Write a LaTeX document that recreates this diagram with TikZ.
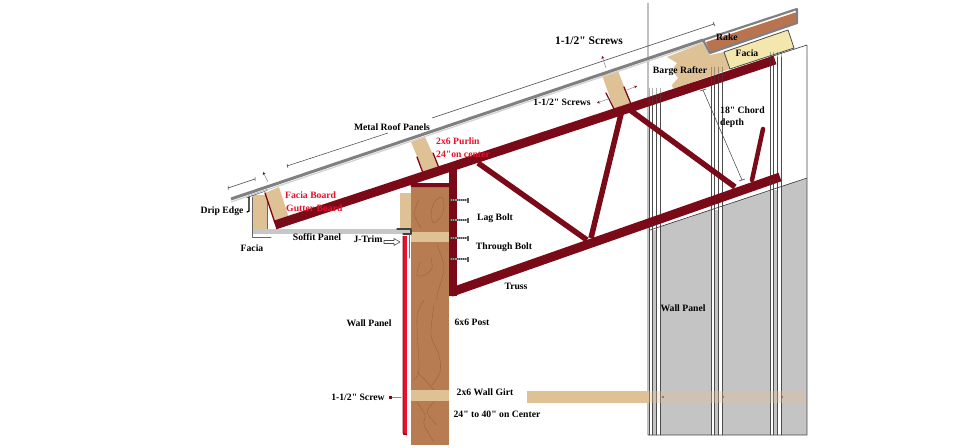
\documentclass[tikz,border=0pt]{standalone}
\usepackage{fontspec}
\usetikzlibrary{arrows.meta}
\setmainfont[Ligatures=TeXOff]{Liberation Serif}
\definecolor{trussred}{HTML}{7A0A18}
\definecolor{postbrown}{HTML}{B87C52}
\definecolor{graincol}{HTML}{9A6038}
\definecolor{lumber}{HTML}{DFC196}
\definecolor{creamy}{HTML}{F3E7AE}
\definecolor{rakebrown}{HTML}{B9744F}
\definecolor{panelgray}{HTML}{C4C4C4}
\definecolor{labelred}{HTML}{E8102A}
\tikzset{
lbl/.style={font=\bfseries\fontsize{9.7}{11}\selectfont,inner sep=0pt,text=black},
redlbl/.style={lbl,text=labelred},
truss/.style={draw=trussred,line cap=butt},
grain/.style={draw=graincol,line width=.35pt,smooth},
dimline/.style={draw=black!75,line width=.5pt},
leader/.style={draw=black!45,line width=.5pt,-{Stealth[length=3pt,width=3pt,trussred]}},
}
\begin{document}
\begin{tikzpicture}[x=1pt,y=-1pt, line join=round, line cap=round,>=stealth]
\useasboundingbox (0,0) rectangle (958,447);
\def\panelbot{435}
% wall panel
\fill[panelgray] (650,230)--(807,178)--(807,\panelbot)--(650,\panelbot)--cycle;
\foreach \x in {649,711,770} \fill[white] (\x,100) rectangle (\x+11,\panelbot);
\fill[white] (650,100)--(807,50)--(807,177)--(650,229)--cycle;
\foreach \x/\t/\b in {649/97/\panelbot,711/77/\panelbot,770/57/\panelbot}{
\fill[panelgray] (\x+4,{230-(\x-650)/3}) rectangle (\x+7,\b);
\draw[black!70,line width=.7pt] (\x,\t)--(\x,\b) (\x+3,\t)--(\x+3,\b) (\x+7,\t)--(\x+7,\b) (\x+11,\t)--(\x+11,\b);
}
\draw[black!70,line width=.7pt] (648,3)--(648,\panelbot)--(807,\panelbot)--(807,45)--(770,57);
\draw[black!80,line width=.6pt] (650,230)--(807,178);
% girt through wall
\fill[lumber] (527,391) rectangle (649,403);
\fill[lumber,opacity=.35] (649,391) rectangle (805,403);
\foreach \x in {663,723,782} \fill[trussred!70] (\x,397) circle (1.2);
% post
\fill[postbrown] (411,187) rectangle (449,445);
\draw[grain] plot coordinates {(436,200) (442,197) (444,205) (442,215) (434,223) (431,215) (433,205) (436,200)};
\draw[grain] plot coordinates {(419,200) (414,214) (421,228)};
\draw[grain] plot coordinates {(420,262) (417,275) (425,275) (432,268) (431,258)};
\draw[grain] plot coordinates {(437,245) (444,268) (437,295) (438,300)};
\draw[grain] plot coordinates {(424,300) (417,318) (419,370) (413,380)};
\draw[grain] plot coordinates {(434,305) (431,335) (439,355) (440,372) (432,385)};
\draw[grain] plot coordinates {(417,372) (425,380) (434,390)};
\draw[grain] plot coordinates {(417,402) (425,415) (424,425) (434,442)};
\draw[grain] plot coordinates {(434,402) (427,412) (437,425)};
% lumber blocks
\fill[lumber] (400,193) rectangle (411,228);
\fill[lumber] (411,232) rectangle (449,242);
\fill[lumber] (411,390) rectangle (449,401);
\fill[lumber] (253,195) rectangle (267,229);
\draw[rakebrown!80!black,line width=.7pt] (267,195)--(267,229);
% soffit and j-trim
\fill[black!22] (252,229) rectangle (410,234);
\draw[black!60,line width=1pt] (252,197)--(252,237)--(271,237);
\draw[black!75,line width=1.2pt] (397,229)--(411,229)--(411,234)--(403,234);
\draw[black!55,line width=.8pt] (409,235)--(409,258);
\fill[labelred] (403,236) rectangle (407,435);
\draw[trussred,line width=.9pt] (403,236)--(403,433)--(407,435);
\draw[black,line width=1.3pt] (247,197)--(267,190) (249,196)--(249,211)--(247,212);
% gutter board and purlins
\fill[lumber] (265,193)--(279,187)--(289,218)--(275,223)--cycle;
\fill[lumber] (411,142)--(425,137)--(439,168)--(424,173)--cycle;
\fill[lumber] (602,75)--(618,71)--(631,104)--(614,109)--cycle;
\draw[trussred,line width=1.3pt] (265,193)--(275,223) (417,157)--(423,173) (433,153)--(439,168) (606,93)--(614,109) (624,87)--(631,104);
% barge rafter, facia, rake
\fill[lumber] (667,57)--(703,43)--(710,55)--(724,52)--(730,69)--(673,89)--(672,85)--(678,78)--(672,70)--(677,63)--cycle;
\filldraw[fill=creamy,draw=black!70,line width=.8pt] (724,52)--(788,30)--(794,48)--(730,69)--cycle;
\fill[rakebrown] (706,42)--(797,12)--(797,23)--(710,53)--cycle;
\draw[black!50,line width=3pt,line cap=butt] (231,199)--(703,40);
\draw[black!18,line width=1.2pt,line cap=butt] (231,202)--(705,42);
\draw[black!50,line width=2.2pt] (797,9)--(703,40)--(710,53)--(797,23)--(797,9);
% truss
\fill[trussred] (410,183)--(453,183)--(453,187)--(411,187)--cycle;
\fill[trussred] (449,170) rectangle (457,296);
\draw[truss,line width=5.5pt] (478,163)--(587,240);
\draw[truss,line width=5.5pt] (622,110)--(591,238);
\draw[truss,line width=5.5pt] (630,110)--(735,187);
\draw[truss,line width=4.5pt,line cap=round] (752,180)--(763,129);
\draw[truss,line width=9pt] (275,225)--(775,60);
\draw[truss,line width=9pt] (451,292.3)--(780,177);
\foreach \x/\t/\b in {649/88/105,711/67/87,770/52/67,649/224/240,711/204/218,770/180/196}
\draw[black!70,opacity=.45,line width=.5pt] (\x,\t)--(\x,\b) (\x+3,\t)--(\x+3,\b) (\x+7,\t)--(\x+7,\b) (\x+11,\t)--(\x+11,\b);
% bolts
\foreach \y in {200,220,238,259}{
\draw[black!40,line width=2pt,line cap=butt] (450,\y)--(467,\y);
\draw[black!70,line width=2pt,dash pattern=on .6pt off 1.6pt,line cap=butt] (450,\y)--(467,\y);
\draw[black!65,line width=2.2pt,line cap=butt] (468,\y-2.5)--(468,\y+2.5);
}
% dimension lines
\draw[dimline] (228,188)--(255,179) (228,186)--(228,190) (255,177)--(255,181);
\draw[dimline] (287,166)--(388,133) (287,164)--(288,168);
\draw[dimline] (432,118)--(714,24) (713,22)--(715,26);
\draw[dimline] (703,90)--(742,180) (700,91)--(706,89) (739,181)--(745,179);
% screw leaders
\draw[leader] (268,182)--(263,172);
\draw[leader] (606,68)--(602,56);
\draw[leader] (611,98)--(597,103);
\draw[leader] (627,90)--(637,86);
\draw[black!45,line width=.5pt] (401,397)--(392,397);
\fill[trussred] (389,396) rectangle (392,398.5);
% j-trim arrow
\filldraw[fill=white,draw=black!70,line width=.6pt] (384,240.5)--(394,240.5)--(394,238.5)--(400,242)--(394,245.5)--(394,243.5)--(384,243.5)--cycle;
% labels
\node[lbl,font=\bfseries\fontsize{11.5}{13}\selectfont] (screwstop) at (589,41) {1-1/2" Screws};
\node[lbl] (screwspurlin) at (562,102) {1-1/2" Screws};
\node[lbl] (rake) at (727,37) {Rake};
\node[lbl] (faciatop) at (747,53) {Facia};
\node[lbl] (barge) at (680,71) {Barge Rafter};
\node[lbl,anchor=west] (chord) at (720,110) {18" Chord};
\node[lbl,anchor=west] (depth) at (720,123) {depth};
\node[lbl] (metal) at (392,127) {Metal Roof Panels};
\node[redlbl,anchor=west] (purlin) at (436,141) {2x6 Purlin};
\node[redlbl,anchor=west] (oncenter) at (436,154) {24"on center};
\node[redlbl,anchor=west] (faciaboard) at (285,195) {Facia Board};
\node[redlbl,anchor=west] (gutter) at (286,208) {Gutter Board};
\node[lbl] (drip) at (222,211) {Drip Edge};
\node[lbl] (facia) at (252,248) {Facia};
\node[lbl] (soffit) at (317,237) {Soffit Panel};
\node[lbl] (jtrim) at (368,239) {J-Trim};
\node[lbl] (lag) at (495,218) {Lag Bolt};
\node[lbl] (through) at (504,247) {Through Bolt};
\node[lbl] (trusslbl) at (516,286) {Truss};
\node[lbl] (wallleft) at (369,323) {Wall Panel};
\node[lbl] (post) at (472,322) {6x6 Post};
\node[lbl] (girt) at (485,392) {2x6 Wall Girt};
\node[lbl] (spacing) at (497,414) {24" to 40" on Center};
\node[lbl] (screwwall) at (358,397) {1-1/2" Screw};
\node[lbl] (wallright) at (683,308) {Wall Panel};
\end{tikzpicture}
\end{document}
